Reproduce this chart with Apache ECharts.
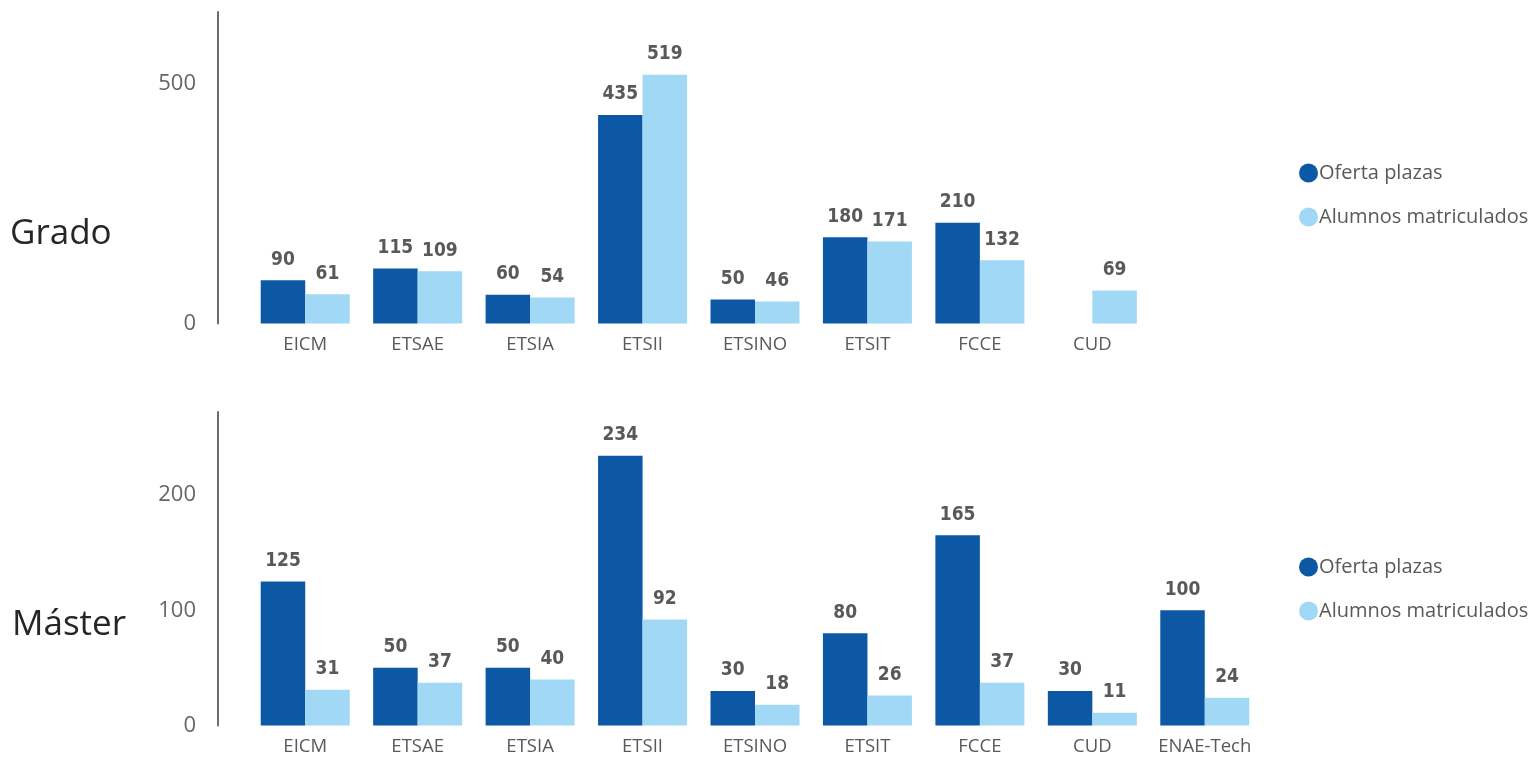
<!DOCTYPE html>
<html><head><meta charset="utf-8">
<script src="https://cdn.jsdelivr.net/npm/echarts@6/dist/echarts.min.js"></script>
<style>html,body{margin:0;padding:0;background:#fff}#c{width:1533px;height:757px}</style>
</head><body><div id="c"></div>
<script>
const categoriesGrado = ['EICM','ETSAE','ETSIA','ETSII','ETSINO','ETSIT','FCCE','CUD',''];
const gradoOferta = [90,115,60,435,50,180,210,'-','-'];
const gradoAlumnos = [61,109,54,519,46,171,132,69,'-'];
const categoriesMaster = ['EICM','ETSAE','ETSIA','ETSII','ETSINO','ETSIT','FCCE','CUD','ENAE-Tech'];
const masterOferta = [125,50,50,234,30,80,165,30,100];
const masterAlumnos = [31,37,40,92,18,26,37,11,24];
const seriesNames = ['Oferta plazas','Alumnos matriculados'];
const colors = ['#0C58A5','#A1D8F6'];

const font = '"Open Sans","Noto Sans",sans-serif';
const chart = echarts.init(document.getElementById('c'), null, {renderer:'canvas'});
const label = {show:true, position:'top', distance:11, color:'#595959', fontSize:19, fontWeight:'bold', fontFamily:'"DejaVu Sans Condensed","DejaVu Sans",sans-serif'};
function xAx(idx, cats){return {type:'category', gridIndex:idx, data:cats, axisLine:{show:false}, axisTick:{show:false}, axisLabel:{interval:0, color:'#595959', fontSize:18.5, fontFamily:font, margin:12}};}
function yAx(idx, max, interval){return {type:'value', gridIndex:idx, min:0, max:max, interval:interval, offset:31, splitLine:{show:false}, axisLine:{show:true, lineStyle:{color:'#6e6e6e', width:2}}, axisTick:{show:false}, axisLabel:{color:'#666', fontSize:22, fontFamily:font, margin:22, showMaxLabel:false}};}
function bar(name, x, data, ci){return {name:name, type:'bar', xAxisIndex:x, yAxisIndex:x, data:data, barWidth:44.5, barGap:'0%', itemStyle:{color:colors[ci]}, label:label, animation:false};}
const legendText = {fontSize:20, color:'#595959', fontFamily:font, padding:[0,0,0,-4]};
chart.setOption({
  animation:false,
  title:[
    {text:'Grado', left:5, top:212, textStyle:{fontSize:35, fontWeight:'normal', color:'#262626', fontFamily:font}},
    {text:'Máster', left:7, top:603, textStyle:{fontSize:35, fontWeight:'normal', color:'#262626', fontFamily:font}}
  ],
  legend:[
    {data:seriesNames, orient:'vertical', left:1294, top:158, itemGap:24, icon:'circle', itemWidth:19, itemHeight:19, textStyle:legendText},
    {data:seriesNames, orient:'vertical', left:1294, top:552, itemGap:24, icon:'circle', itemWidth:19, itemHeight:19, textStyle:legendText}
  ],
  grid:[
    {left:249, right:272, top:12, height:311.5},
    {left:249, right:272, top:412, height:313.5}
  ],
  xAxis:[xAx(0,categoriesGrado), xAx(1,categoriesMaster)],
  yAxis:[yAx(0,650,500), yAx(1,272,100)],
  series:[
    bar(seriesNames[0],0,gradoOferta,0),
    bar(seriesNames[1],0,gradoAlumnos,1),
    bar(seriesNames[0],1,masterOferta,0),
    bar(seriesNames[1],1,masterAlumnos,1)
  ]
});
</script></body></html>
